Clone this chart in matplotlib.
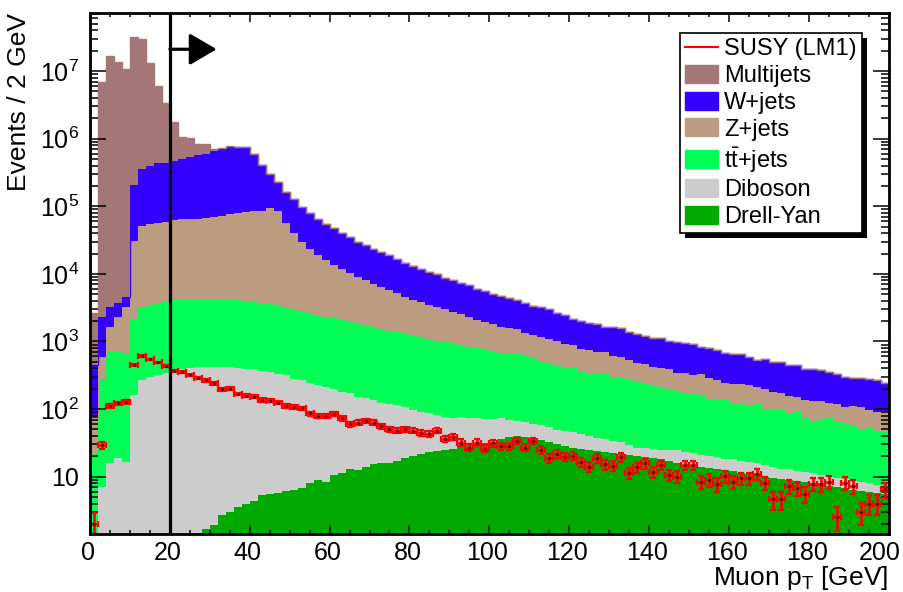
import numpy as np
import matplotlib
matplotlib.use('Agg')
import matplotlib.pyplot as plt
from matplotlib.patches import Patch, Rectangle
from matplotlib.lines import Line2D
from matplotlib.ticker import LogLocator, MultipleLocator, FixedLocator, FuncFormatter, NullFormatter
from matplotlib.transforms import IdentityTransform, ScaledTranslation

plt.rcParams.update({
    'font.family': 'Liberation Sans',
    'mathtext.fontset': 'custom',
    'mathtext.rm': 'Liberation Sans',
    'mathtext.it': 'Liberation Sans:italic',
    'mathtext.bf': 'Liberation Sans:bold',
})

# muon pT, 2 GeV bins from 0 to 200
bin_edges = np.arange(0, 202, 2)

multijets = [2180, 6.9e6, 1.67e7, 1.36e7, 1.06e7, 3.18e7, 2.97e7, 1.26e7, 5.57e6, 2.96e6,
             1.31e6, 5.4e5, 4.8e5, 2.6e5, 2.4e5, 3.5e4, 8000, 6000, 5000, 4000,
             3000, 2000, 1500, 1000, 800, 600, 500, 400, 300, 250,
             200, 150, 120, 100, 90, 80, 70, 60, 50, 45] + [0] * 60

w_jets = [377, 1736, 1618, 1337, 1224, 1.75e5, 2.99e5, 3.35e5, 3.73e5, 3.81e5,
          4.07e5, 4.36e5, 4.76e5, 5.05e5, 5.34e5, 5.92e5, 6.38e5, 6.84e5, 6.81e5, 6.79e5,
          5.06e5, 3.25e5, 2.05e5, 1.40e5, 1.07e5, 8.54e4, 6.61e4, 5.49e4, 4.57e4, 3.86e4,
          3.35e4, 2.79e4, 2.42e4, 2.08e4, 1.84e4, 1.62e4, 1.46e4, 1.30e4, 1.14e4, 1.00e4,
          9100, 7970, 7300, 6630, 5700, 5380, 4790, 4480, 3900, 3570,
          3200, 3100, 2740, 2570, 2340, 2130, 2040, 1910, 1590, 1540,
          1240, 1260, 1150, 1120, 960, 1010, 1000, 860, 816, 741,
          716, 701, 643, 645, 620, 588, 507, 505, 477, 421,
          417, 410, 368, 317, 354, 310, 319, 292, 296, 255,
          253, 245, 228, 210, 186, 173, 176, 178, 178, 148]

z_jets = [51, 326, 947, 1618, 2600, 2.85e4, 4.78e4, 5.11e4, 5.33e4, 5.51e4,
          5.85e4, 5.99e4, 5.99e4, 6.14e4, 6.19e4, 6.44e4, 6.79e4, 7.19e4, 7.49e4, 7.7e4,
          8.01e4, 8.13e4, 9.15e4, 8.17e4, 5.38e4, 3.76e4, 2.71e4, 2.1e4, 1.65e4, 1.37e4,
          1.14e4, 9730, 8400, 7290, 6250, 5500, 4850, 4310, 3880, 3320,
          2880, 2680, 2400, 2240, 2000, 1800, 1640, 1440, 1310, 1170,
          1080, 983, 933, 870, 704, 690, 637, 596, 555, 511,
          485, 413, 401, 360, 365, 314, 310, 266, 224, 227,
          202, 204, 189, 165, 167, 151, 168, 145, 130, 106,
          113, 117, 111, 95, 96, 83, 74, 70, 61, 59,
          66, 63, 48, 54, 48, 53, 58, 44, 45, 47]

ttbar = [22, 261, 689, 686, 649, 1909, 2892, 3159, 3342, 3533,
         3714, 3705, 3695, 3686, 3677, 3677, 3677, 3686, 3695, 3605,
         3484, 3330, 3195, 3015, 2875, 2720, 2581, 2355, 2273, 2111,
         2004, 1889, 1829, 1658, 1606, 1464, 1426, 1321, 1265, 1164,
         1123, 1059, 1014, 948, 903, 841, 795, 753, 717, 693,
         648, 594, 598, 593, 552, 500, 455, 419, 406, 357,
         354, 317, 305, 293, 289, 261, 252, 236, 223, 205,
         196, 180, 173, 156, 147, 144, 140, 119, 120, 121,
         103, 100, 98, 103, 84, 83, 84, 73, 79, 65,
         56, 59, 63, 56, 51, 49, 42, 45, 39, 38]

diboson = [0, 7.1, 15.7, 18.6, 16.6, 161, 268, 301, 318, 337,
           386, 395, 405, 414, 421, 421, 420, 411, 401, 391,
           382, 365, 350, 329, 309, 274, 262, 237, 218, 201,
           185, 170, 158, 140, 130, 121, 108, 103, 98, 87,
           77, 70, 63, 58, 52, 49, 47, 44, 43, 39,
           39, 37, 31, 27, 25, 23, 23, 22, 19, 20,
           19, 17, 15, 13, 13, 11.5, 11, 8, 7, 7.5,
           7, 7, 8, 9, 8.4, 8.1, 6.9, 6.7, 6.3, 5.5,
           6, 5.7, 5.6, 5.2, 4.9, 4.0, 3.5, 3.8, 3.6, 3.5,
           3.2, 3.0, 2.7, 2.4, 2.4, 2.2, 2.2, 2.1, 1.8, 1.8]

drell_yan = [0, 0, 0, 0, 0, 0, 0, 0, 0, 0,
             0, 0, 0, 0, 1.66, 1.92, 2.7, 3.0, 3.6, 3.9,
             4.3, 5.3, 5.5, 5.7, 6.2, 6.3, 6.9, 8.0, 8.9, 8.4,
             10.6, 11.2, 12.8, 12.5, 14.0, 15.4, 15.7, 16.1, 17.2, 18.7,
             20.2, 21.5, 23.4, 24.2, 24.8, 25.9, 28.4, 29.4, 30.4, 31.8,
             32.9, 35.6, 38, 40, 39, 37, 35, 33, 30, 28,
             27, 26, 25, 24, 23, 22.5, 22, 21, 20, 19.5,
             19, 18, 17, 16, 15, 14.5, 14, 13.5, 13, 12.5,
             12, 11.5, 11, 10.5, 10, 9.7, 9.3, 9.0, 8.6, 8.3,
             8.0, 7.6, 7.3, 7.0, 6.7, 6.4, 6.2, 6.0, 5.7, 5.5]

susy = [2.0, 29, 112, 121, 127, 455, 614, 543, 490, 433,
        369, 353, 315, 287, 265, 240, 196, 200, 167, 158,
        152, 136, 133, 124, 111, 107, 102, 86, 79, 79,
        84, 73, 60, 63, 67, 63, 56, 50, 48, 50,
        48, 44, 43, 48, 36, 39, 32, 27, 32, 26,
        31, 28, 28, 34, 27, 34, 25, 18.6, 22, 19.7,
        20.2, 16.6, 14.0, 18.6, 15.2, 14.4, 19.3, 11.2, 13.7, 15.7,
        11.6, 14.9, 10.6, 10, 14.9, 14.9, 8.4, 8.9, 7.8, 10.2,
        8.4, 9.4, 9.4, 10.9, 8.1, 4.6, 4.6, 7.3, 6.7, 5.6,
        7.9, 7.8, 8.4, 2.55, 8.1, 7.3, 3.0, 4.0, 4.0, 6.5]

susy_err = [0.9, 3.4, 6.7, 7.0, 7.1, 13.5, 15.7, 14.7, 14.0, 13.2,
            12.1, 11.9, 11.2, 10.7, 10.3, 9.8, 8.9, 8.9, 8.2, 7.9,
            7.8, 7.4, 7.3, 7.0, 6.7, 6.5, 6.4, 5.9, 5.6, 5.6,
            5.8, 5.4, 4.9, 5.0, 5.2, 5.0, 4.7, 4.5, 4.4, 4.5,
            4.4, 4.2, 4.1, 4.4, 3.8, 3.9, 3.6, 3.3, 3.6, 3.2,
            3.5, 3.3, 3.3, 3.7, 3.3, 3.7, 3.2, 2.7, 3.0, 2.8,
            2.8, 2.6, 2.4, 2.7, 2.5, 2.4, 2.8, 2.1, 2.3, 2.5,
            2.2, 2.4, 2.1, 2.0, 2.4, 2.4, 1.8, 1.9, 1.8, 2.0,
            1.8, 1.9, 1.9, 2.1, 1.8, 1.4, 1.4, 1.7, 1.6, 1.5,
            1.8, 1.8, 1.8, 1.0, 1.8, 1.7, 1.1, 1.3, 1.3, 1.6]

# stacked from the bottom up
stack = [
    ('Drell-Yan', drell_yan, '#00aa00'),
    ('Diboson', diboson, '#cccccc'),
    (r't$\mathrm{\bar{t}}$+jets', ttbar, '#00ff55'),
    ('Z+jets', z_jets, '#bc9c80'),
    ('W+jets', w_jets, '#3300ff'),
    ('Multijets', multijets, '#a47676'),
]

ymin, ymax = 1.42, 7.3e7
cut = 20
decades = [1e1, 1e2, 1e3, 1e4, 1e5, 1e6, 1e7]

fig = plt.figure(figsize=(9.04, 5.92), dpi=100)
ax = fig.add_axes([0.0996, 0.098, 0.8833, 0.8806])

below = np.zeros(len(bin_edges) - 1)
for name, vals, col in stack:
    top = below + np.asarray(vals, dtype=float)
    ax.stairs(np.maximum(top, 1e-3), bin_edges, baseline=np.maximum(below, 1e-3),
              fill=True, color=col, lw=0)
    ax.stairs(np.maximum(top, 1e-3), bin_edges, baseline=None, color=col, lw=1.0)
    below = top

centers = 0.5 * (bin_edges[:-1] + bin_edges[1:])
ax.errorbar(centers, susy, xerr=1.0, yerr=susy_err, fmt='o', ms=1.2, color='#660000',
            ecolor='red', elinewidth=1.9, capsize=2.2, capthick=1.6, zorder=6)

ax.axvline(cut, color='black', lw=2.3, zorder=7)
ax.annotate('', xy=(31.7, 2.1e7), xytext=(cut, 2.1e7),
            arrowprops=dict(arrowstyle='-|>,head_length=1.04,head_width=0.61',
                            lw=2.3, color='black', shrinkA=0, shrinkB=0,
                            mutation_scale=16),
            zorder=7)

ax.set_xlim(0, 200)
ax.set_yscale('log')
ax.set_ylim(ymin, ymax)

ax.xaxis.set_major_locator(FixedLocator(np.arange(0, 201, 20)))
ax.xaxis.set_minor_locator(MultipleLocator(5))
ax.yaxis.set_major_locator(FixedLocator(decades))
ax.yaxis.set_minor_locator(LogLocator(base=10, subs=np.arange(2, 10)))
ax.yaxis.set_minor_formatter(NullFormatter())


def decade_label(v, pos):
    e = int(round(np.log10(v)))
    return '10' if e == 1 else r'$\mathregular{10^{%d}}$' % e


ax.yaxis.set_major_formatter(FuncFormatter(decade_label))
ax.tick_params(which='both', direction='in', top=True, right=True, width=1.1,
               labelsize=18)
ax.xaxis.set_tick_params(which='major', length=6.5, pad=5)
ax.xaxis.set_tick_params(which='minor', length=3.2)
ax.yaxis.set_tick_params(which='major', length=11.5, pad=8)
ax.yaxis.set_tick_params(which='minor', length=5.5)
for s in ax.spines.values():
    s.set_linewidth(2)
    s.set_zorder(8)

# x tick numbers sit a touch left of their ticks, the one at 200 more so
fig.canvas.draw()
for tick in ax.xaxis.get_major_ticks():
    dx = -9 if np.isclose(tick.get_loc(), 200) else -2
    lab = tick.label1
    lab.set_transform(lab.get_transform() + ScaledTranslation(dx / 100, 0, fig.dpi_scale_trans))

ax.set_xlabel(r'Muon p$_{\mathrm{T}}$ [GeV]', fontsize=19, loc='right', labelpad=-1)
ax.set_ylabel('Events / 2 GeV', fontsize=19, loc='top', labelpad=6)

handles = [Line2D([], [], color='red', lw=1.5)]
labels = ['SUSY (LM1)']
for name, vals, col in stack[::-1]:
    handles.append(Patch(facecolor=col, edgecolor=col))
    labels.append(name)

leg = ax.legend(handles, labels, loc='upper left', bbox_to_anchor=(680 / 904, 1 - 33 / 592),
                bbox_transform=fig.transFigure, borderaxespad=0, fontsize=17,
                frameon=True, fancybox=False, framealpha=1, edgecolor='black',
                handlelength=1.4, handleheight=0.8, handletextpad=0.25,
                labelspacing=0.19, borderpad=0.22)
leg.get_frame().set_linewidth(1.2)
leg.set_zorder(10)

# solid drop shadow behind the legend box
fig.canvas.draw()
bb = leg.get_window_extent()
shadow = Rectangle((bb.x0 + 5, bb.y0 - 5), bb.width, bb.height, transform=IdentityTransform(),
                   facecolor='black', edgecolor='none', zorder=9.5, clip_on=False)
ax.add_patch(shadow)

fig.savefig('out.png', dpi=100)
